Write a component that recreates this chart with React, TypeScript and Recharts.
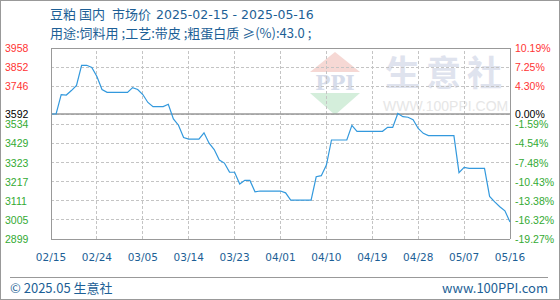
import React from 'react';
import {
  LineChart,
  Line,
  XAxis,
  YAxis,
  CartesianGrid,
  ReferenceLine,
} from 'recharts';

// 豆粕 国内市场价（元/吨），2025-02-15 起逐日
const prices = [
  3592, 3592, 3700, 3697, 3722, 3750, 3862, 3862, 3850, 3800,
  3728, 3712, 3712, 3712, 3712, 3712, 3738, 3728, 3700, 3656,
  3633, 3633, 3633, 3646, 3565, 3530, 3462, 3453, 3453, 3453,
  3488, 3430, 3395, 3337, 3320, 3270, 3269, 3204, 3224, 3224,
  3161, 3165, 3165, 3165, 3165, 3165, 3155, 3115, 3115, 3115,
  3115, 3115, 3244, 3250, 3309, 3448, 3448, 3448, 3448, 3529,
  3496, 3496, 3496, 3496, 3496, 3496, 3518, 3518, 3595, 3577,
  3574, 3560, 3512, 3485, 3472, 3472, 3472, 3472, 3472, 3472,
  3267, 3296, 3291, 3291, 3291, 3291, 3135, 3105, 3078, 3055,
  2993,
];

const basePrice = 3592;

const xTickDays = [0, 9, 18, 27, 36, 45, 54, 63, 72, 81, 90];
const xTickLabels = [
  '02/15', '02/24', '03/05', '03/14', '03/23', '04/01',
  '04/10', '04/19', '04/28', '05/07', '05/16',
];

const yTicks = [3958, 3852, 3746, 3592, 3534, 3429, 3323, 3217, 3111, 3005, 2899];
const pctLabels = [
  '10.19%', '7.25%', '4.30%', '0.00%', '-1.59%', '-4.54%',
  '-7.48%', '-10.43%', '-13.38%', '-16.32%', '-19.27%',
];

const data = prices.map((price, i) => ({ day: i, price }));

const RED = '#ff3333';
const GREEN = '#33aa33';
const BLUE_TEXT = '#1d5f96';
const GRID = '#c4c4c4';
const BORDER = '#999';

const tickColor = (v: number) => (v > basePrice ? RED : v < basePrice ? GREEN : '#000');

// 左侧价格 + 右侧涨跌幅，同一刻度一起画
const YTick = (props: any) => {
  const { y, payload } = props;
  const idx = yTicks.indexOf(payload.value);
  const fill = tickColor(payload.value);
  return (
    <g fontSize={10.5} fontFamily="Liberation Sans, Arial" fill={fill}>
      <text x={5} y={y} dy={4}>{payload.value}</text>
      <text x={515} y={y} dy={4}>{pctLabels[idx]}</text>
    </g>
  );
};

const BottomTick = (props: any) => {
  const { x, payload } = props;
  const idx = xTickDays.indexOf(payload.value);
  return (
    <text x={x} y={261} textAnchor="middle" fontSize={10.5} fontFamily="DejaVu Sans" fill={BLUE_TEXT}>
      {xTickLabels[idx]}
    </text>
  );
};

// 背景：标题、水印、页脚、外框
const Backdrop = () => (
  <svg width={560} height={300} style={{ position: 'absolute', left: 0, top: 0 }}>
    <rect x={0.5} y={0.5} width={559} height={299} fill="#fff" stroke={BORDER} />
    <g fontFamily="Noto Sans CJK SC" fontSize={13} fill={BLUE_TEXT}>
      <text x={50} y={19}>豆粕</text>
      <text x={79} y={19}>国内</text>
      <text x={112} y={19}>市场价</text>
      <text x={156} y={19} fontFamily="DejaVu Sans" fontSize={12.5}>2025-02-15 - 2025-05-16</text>
      <text x={50} y={38}>用途:饲料用 ;工艺:带皮 ;粗蛋白质 ≥(%):43.0 ;</text>
    </g>
    {/* 水印 */}
    <polygon points="335,52 310,72 360,72" fill="#f6d8d4" />
    <text x={335} y={90} textAnchor="middle" fontSize={20} fontWeight="bold" fontFamily="DejaVu Serif" fill="#d6dcea">PPI</text>
    <polygon points="310,93 360,93 335,115" fill="#d4eedb" />
    <text x={385} y={86} fontSize={35} letterSpacing={6} fontFamily="Noto Sans CJK SC" fontWeight="bold" fill="#dfe3ee">生意社</text>
    <text x={383} y={111} fontSize={14} fontFamily="Liberation Sans" fill="#e6e6e6">WWW.100PPI.COM</text>
    {/* 页脚 */}
    <line x1={10} y1={277.5} x2={548} y2={277.5} stroke={BORDER} />
    <g fontFamily="Noto Sans CJK SC" fontSize={13} fill={BLUE_TEXT}>
      <text x={10} y={293}>© 2025.05 生意社</text>
      <text x={548} y={293} textAnchor="end">www.100PPI.com</text>
    </g>
  </svg>
);

export default function App() {
  return (
    <div style={{ position: 'absolute', left: 0, top: 0, width: 560, height: 300 }}>
      <Backdrop />
      <div style={{ position: 'absolute', left: 0, top: 0 }}>
        <LineChart width={560} height={300} data={data} margin={{ top: 48, right: 50, bottom: 0, left: 0 }}>
          <CartesianGrid stroke={GRID} strokeDasharray="3 2" vertical={false} shapeRendering="crispEdges" />
          <XAxis
            dataKey="day"
            type="number"
            domain={[0, 90]}
            ticks={xTickDays}
            interval={0}
            height={61}
            tickLine={false}
            axisLine={{ stroke: BORDER, shapeRendering: 'crispEdges' }}
            tick={<BottomTick />}
          />
          <YAxis
            domain={[2899, 3958]}
            ticks={yTicks}
            interval={0}
            width={51}
            tickLine={false}
            axisLine={{ stroke: BORDER, shapeRendering: 'crispEdges' }}
            tick={<YTick />}
          />
          {xTickDays.slice(1, -1).map((d) => (
            <ReferenceLine
              key={d}
              x={d}
              stroke={GRID}
              strokeWidth={1}
              strokeDasharray="3 2"
              shapeRendering="crispEdges"
            />
          ))}
          <ReferenceLine y={3958} stroke={BORDER} shapeRendering="crispEdges" />
          <ReferenceLine x={90} stroke={BORDER} shapeRendering="crispEdges" />
          <ReferenceLine y={basePrice} stroke={BORDER} strokeWidth={1.5} />
          <Line
            type="linear"
            dataKey="price"
            stroke="#3399dd"
            strokeWidth={1.2}
            dot={false}
            isAnimationActive={false}
          />
        </LineChart>
      </div>
    </div>
  );
}
